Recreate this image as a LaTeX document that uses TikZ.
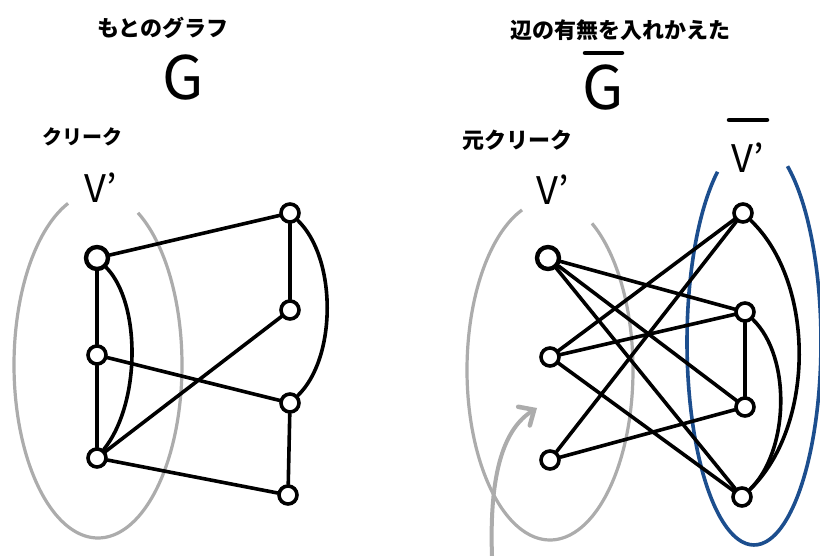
\documentclass[tikz,border=0pt]{standalone}
\usepackage{fontspec}
\newfontfamily\jp{Noto Sans CJK JP}
\usetikzlibrary{arrows.meta}
\definecolor{hullgray}{RGB}{172,172,172}
\definecolor{hullblue}{RGB}{28,78,142}
\begin{document}
\begin{tikzpicture}[x=1pt,y=-1pt,
  vtx/.style={circle,draw=black,line width=3.6pt,fill=white,minimum size=18pt,inner sep=0pt},
  bigvtx/.style={vtx,minimum size=22pt,line width=4.4pt},
  edge/.style={line width=3.6pt,draw=black,line cap=round},
  hull/.style={line width=3.2pt,draw=hullgray},
  bluehull/.style={line width=3.6pt,draw=hullblue},
  jptext/.style={font=\jp\bfseries\fontsize{22}{22}\selectfont,inner sep=0pt},
  bigletter/.style={font=\jp\fontsize{60}{60}\selectfont,inner sep=0pt},
  vletter/.style={font=\jp\fontsize{38}{38}\selectfont,inner sep=0pt},
  barline/.style={line width=4.5pt,line cap=round}]
\useasboundingbox[fill=white] (0,0) rectangle (820,556);

% hulls
\draw[hull] plot[smooth,domain=-61.6:249.1,samples=90,variable=\t] ({98+84*cos(\t)},{365+173*sin(\t)});
\draw[hull] plot[smooth,domain=-59.6:250.3,samples=90,variable=\t] ({550+83*cos(\t)},{370+170*sin(\t)});
\draw[bluehull] plot[smooth,domain=-60:237,samples=90,variable=\t] ({754+67*cos(\t)},{342+203*sin(\t)});

% arrow
\coordinate (as) at (492,556);
\coordinate (ae) at (537,408);
\draw[line width=4pt,draw=hullgray,line cap=round,-{Straight Barb[length=12pt,width=22pt,line width=4.5pt,line cap=round]}] (as) .. controls (489,470) and (505,428) .. (ae);

% texts
\node[jptext] (t1) at (163,28) {もとのグラフ};
\node[bigletter] (G1) at (183,78) {G};
\node[jptext,font=\jp\bfseries\fontsize{20}{20}\selectfont] (c1) at (82,137) {クリーク};
\node[vletter] (v1) at (101,188) {V’};

\node[jptext] (t2) at (620,30) {辺の有無を入れかえた};
\node[bigletter] (G2) at (603,88) {G};
\draw[barline] (585,53) -- (622,53);
\node[jptext] (c2) at (517,140) {元クリーク};
\node[vletter] (v2) at (553,190) {V’};
\node[vletter] (v3) at (748,158) {V’};
\draw[barline] (729,120) -- (767,120);

% left graph nodes
\node[bigvtx] (L1) at (97,258) {};
\node[vtx] (L2) at (97,355) {};
\node[vtx] (L3) at (97,458) {};
\node[vtx] (R1) at (290,213) {};
\node[vtx] (R2) at (290,310) {};
\node[vtx] (R3) at (290,403) {};
\node[vtx] (R4) at (288,495) {};

% left graph edges
\draw[edge] (L1) -- (L2);
\draw[edge] (L2) -- (L3);
\draw[edge] (L1) .. controls +(44,45) and +(44,-55) .. (L3);
\draw[edge] (L1) -- (R1);
\draw[edge] (L2) -- (R3);
\draw[edge] (L3) -- (R2);
\draw[edge] (L3) -- (R4);
\draw[edge] (R1) -- (R2);
\draw[edge] (R3) -- (R4);
\draw[edge] (R1) .. controls +(47,45) and +(47,-45) .. (R3);

% right graph nodes
\node[bigvtx] (A1) at (548,258) {};
\node[vtx] (A2) at (550,357) {};
\node[vtx] (A3) at (550,460) {};
\node[vtx] (B1) at (743,213) {};
\node[vtx] (B2) at (745,312) {};
\node[vtx] (B3) at (745,407) {};
\node[vtx] (B4) at (742,497) {};

% right graph edges (complement)
\draw[edge] (A1) -- (B2);
\draw[edge] (A1) -- (B3);
\draw[edge] (A1) -- (B4);
\draw[edge] (A2) -- (B1);
\draw[edge] (A2) -- (B2);
\draw[edge] (A2) -- (B4);
\draw[edge] (A3) -- (B1);
\draw[edge] (A3) -- (B3);
\draw[edge] (B2) -- (B3);
\draw[edge] (B1) .. controls +(73,70) and +(73,-70) .. (B4);
\draw[edge] (B2) .. controls +(47,45) and +(47,-45) .. (B4);
\end{tikzpicture}
\end{document}
